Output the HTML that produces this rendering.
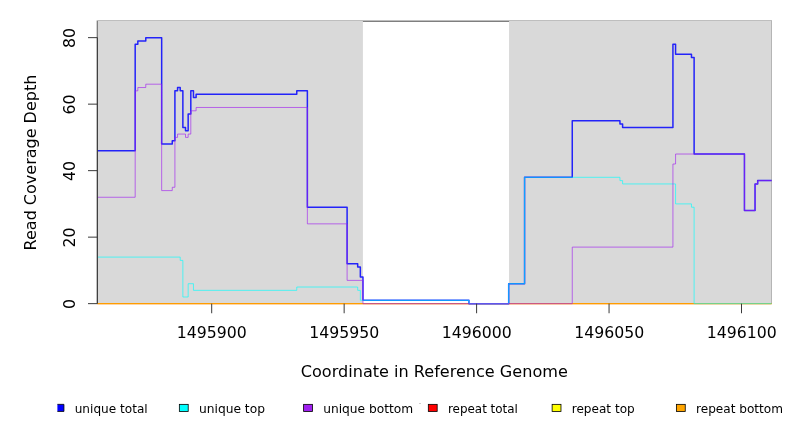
<!DOCTYPE html>
<html lang="en">
<head>
<meta charset="utf-8">
<title>Read Coverage Depth</title>
<style>
html,body{margin:0;padding:0;background:#ffffff;}
body{width:792px;height:432px;overflow:hidden;}
svg{display:block;}
</style>
</head>
<body>
<svg width="792" height="432" viewBox="0 0 792 432">
<rect x="0" y="0" width="792" height="432" fill="#ffffff"/>
<path d="M97.40 303.65 L97.40 21.25 L771.25 21.25 L771.25 303.65" fill="none" stroke="#7f7f7f" stroke-width="1.5"/>
<rect x="98.00" y="21.00" width="264.90" height="282.65" fill="#d9d9d9"/>
<rect x="509.05" y="21.00" width="262.55" height="282.65" fill="#d9d9d9"/>
<path d="M97.40 303.65 L771.60 303.65" stroke="#ff0000" stroke-width="1" fill="none"/>
<path d="M97.40 303.65 L771.60 303.65" stroke="#ffff00" stroke-width="1" fill="none"/>
<path d="M97.40 303.65 L771.60 303.65" stroke="#ff9200" stroke-width="1" fill="none"/>
<g fill="none" stroke-linejoin="round" stroke-linecap="butt">
<path d="M97.40 150.70 L135.18 150.70 L135.18 44.30 L137.83 44.30 L137.83 40.97 L145.78 40.97 L145.78 37.65 L161.67 37.65 L161.67 144.05 L172.26 144.05 L172.26 140.72 L174.91 140.72 L174.91 90.85 L177.56 90.85 L177.56 87.52 L180.21 87.52 L180.21 90.85 L182.86 90.85 L182.86 127.42 L185.51 127.42 L185.51 130.75 L188.16 130.75 L188.16 114.12 L190.81 114.12 L190.81 90.85 L193.46 90.85 L193.46 97.50 L196.11 97.50 L196.11 94.17 L296.77 94.17 L296.77 90.85 L307.36 90.85 L307.36 207.22 L347.10 207.22 L347.10 263.75 L357.69 263.75 L357.69 267.07 L360.34 267.07 L360.34 277.05 L362.99 277.05 L362.99 300.32 L468.95 300.32 L468.95 303.65 L508.69 303.65 L508.69 283.70 L524.58 283.70 L524.58 177.30 L572.26 177.30 L572.26 120.77 L619.95 120.77 L619.95 124.10 L622.60 124.10 L622.60 127.42 L672.93 127.42 L672.93 44.30 L675.57 44.30 L675.57 54.27 L691.47 54.27 L691.47 57.60 L694.12 57.60 L694.12 154.02 L744.45 154.02 L744.45 210.55 L755.04 210.55 L755.04 183.95 L757.69 183.95 L757.69 180.62 L771.60 180.62" stroke="#0000ff" stroke-opacity="0.84" stroke-width="1.5"/>
<path d="M97.40 257.10 L180.21 257.10 L180.21 260.42 L182.86 260.42 L182.86 297.00 L188.16 297.00 L188.16 283.70 L193.46 283.70 L193.46 290.35 L296.77 290.35 L296.77 287.02 L357.69 287.02 L357.69 290.35 L360.34 290.35 L360.34 300.32 L468.95 300.32 L468.95 303.65 L508.69 303.65 L508.69 283.70 L524.58 283.70 L524.58 177.30 L619.95 177.30 L619.95 180.62 L622.60 180.62 L622.60 183.95 L675.57 183.95 L675.57 203.90 L691.47 203.90 L691.47 207.22 L694.12 207.22 L694.12 303.65 L771.60 303.65" stroke="#00ffff" stroke-opacity="0.85" stroke-width="0.75"/>
<path d="M97.40 197.25 L135.18 197.25 L135.18 90.85 L137.83 90.85 L137.83 87.52 L145.78 87.52 L145.78 84.20 L161.67 84.20 L161.67 190.60 L172.26 190.60 L172.26 187.27 L174.91 187.27 L174.91 137.40 L177.56 137.40 L177.56 134.07 L185.51 134.07 L185.51 137.40 L188.16 137.40 L188.16 134.07 L190.81 134.07 L190.81 110.80 L196.11 110.80 L196.11 107.47 L307.36 107.47 L307.36 223.85 L347.10 223.85 L347.10 280.38 L362.99 280.38 L362.99 303.65 L572.26 303.65 L572.26 247.12 L672.93 247.12 L672.93 164.00 L675.57 164.00 L675.57 154.02 L744.45 154.02 L744.45 210.55 L755.04 210.55 L755.04 183.95 L757.69 183.95 L757.69 180.62 L771.60 180.62" stroke="#a020f0" stroke-opacity="0.85" stroke-width="0.75"/>
</g>
<g stroke="#3a3a3a" stroke-width="1" fill="none">
<path d="M97.40 37.65 L97.40 303.65"/>
<path d="M88.00 303.65 L97.40 303.65"/>
<path d="M88.00 237.15 L97.40 237.15"/>
<path d="M88.00 170.65 L97.40 170.65"/>
<path d="M88.00 104.15 L97.40 104.15"/>
<path d="M88.00 37.65 L97.40 37.65"/>
<path d="M211.70 303.65 L211.70 313.25"/>
<path d="M344.15 303.65 L344.15 313.25"/>
<path d="M476.60 303.65 L476.60 313.25"/>
<path d="M609.05 303.65 L609.05 313.25"/>
<path d="M741.50 303.65 L741.50 313.25"/>
</g>
<g font-family="'DejaVu Sans', 'Liberation Sans', sans-serif" fill="#000000">
<text transform="translate(74.8 308.90) rotate(-90)" font-size="16" textLength="10" lengthAdjust="spacingAndGlyphs">0</text>
<text transform="translate(74.8 247.40) rotate(-90)" font-size="16" textLength="20" lengthAdjust="spacingAndGlyphs">20</text>
<text transform="translate(74.8 180.90) rotate(-90)" font-size="16" textLength="20" lengthAdjust="spacingAndGlyphs">40</text>
<text transform="translate(74.8 114.40) rotate(-90)" font-size="16" textLength="20" lengthAdjust="spacingAndGlyphs">60</text>
<text transform="translate(74.8 47.90) rotate(-90)" font-size="16" textLength="20" lengthAdjust="spacingAndGlyphs">80</text>
<text x="176.85" y="337.8" font-size="16" textLength="70" lengthAdjust="spacingAndGlyphs">1495900</text>
<text x="309.30" y="337.8" font-size="16" textLength="70" lengthAdjust="spacingAndGlyphs">1495950</text>
<text x="441.75" y="337.8" font-size="16" textLength="70" lengthAdjust="spacingAndGlyphs">1496000</text>
<text x="574.20" y="337.8" font-size="16" textLength="70" lengthAdjust="spacingAndGlyphs">1496050</text>
<text x="706.65" y="337.8" font-size="16" textLength="70" lengthAdjust="spacingAndGlyphs">1496100</text>
<text x="300.8" y="377.1" font-size="16" textLength="267" lengthAdjust="spacingAndGlyphs">Coordinate in Reference Genome</text>
<text transform="translate(35.6 250.4) rotate(-90)" font-size="16" textLength="175.7" lengthAdjust="spacingAndGlyphs">Read Coverage Depth</text>
<rect x="57.4" y="404.35" width="6.54" height="7.1" fill="#0000ff"/>
<path d="M57.4 404.35 L63.94 404.35 L63.94 411.45 L57.4 411.45" fill="none" stroke="#000000" stroke-width="0.8"/>
<text x="74.70" y="412.5" font-size="12.8" textLength="73" lengthAdjust="spacingAndGlyphs">unique total</text>
<rect x="179.35" y="404.35" width="8.85" height="7.1" fill="#00ffff" stroke="#000000" stroke-width="0.8"/>
<text x="198.96" y="412.5" font-size="12.8" textLength="66" lengthAdjust="spacingAndGlyphs">unique top</text>
<rect x="303.61" y="404.35" width="8.85" height="7.1" fill="#a020f0" stroke="#000000" stroke-width="0.8"/>
<text x="323.22" y="412.5" font-size="12.8" textLength="90" lengthAdjust="spacingAndGlyphs">unique bottom</text>
<rect x="428.32" y="404.35" width="8.85" height="7.1" fill="#ff0000" stroke="#000000" stroke-width="0.8"/>
<text x="447.93" y="412.5" font-size="12.8" textLength="70" lengthAdjust="spacingAndGlyphs">repeat total</text>
<rect x="552.13" y="404.35" width="8.85" height="7.1" fill="#ffff00" stroke="#000000" stroke-width="0.8"/>
<text x="571.74" y="412.5" font-size="12.8" textLength="63" lengthAdjust="spacingAndGlyphs">repeat top</text>
<rect x="676.39" y="404.35" width="8.85" height="7.1" fill="#ffa500" stroke="#000000" stroke-width="0.8"/>
<text x="696.00" y="412.5" font-size="12.8" textLength="87" lengthAdjust="spacingAndGlyphs">repeat bottom</text>
</g>
<rect x="419" y="403" width="2" height="1" fill="#cfcfcf"/>
</svg>
</body>
</html>
